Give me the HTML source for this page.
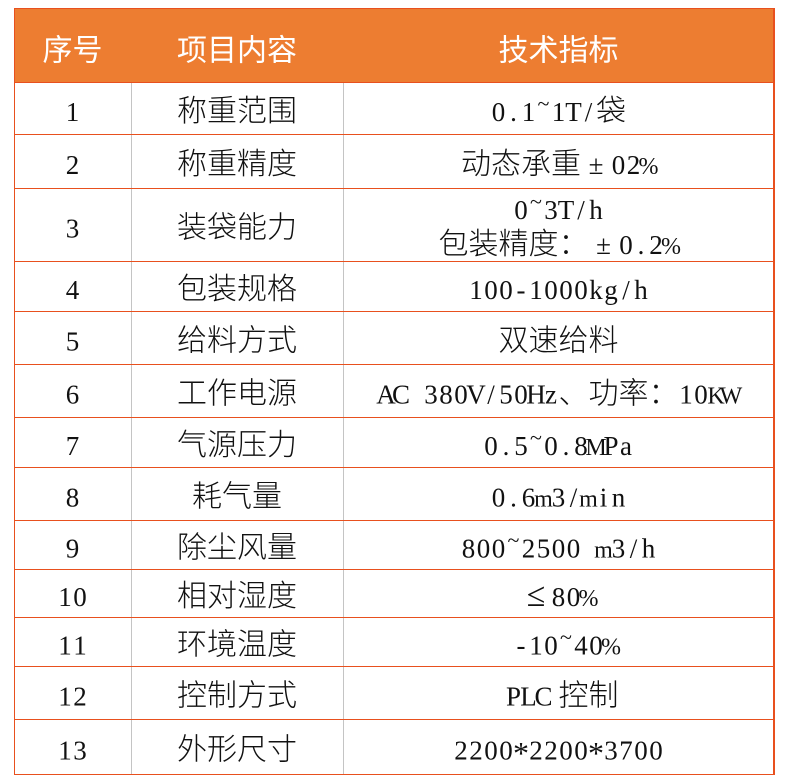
<!DOCTYPE html>
<html><head><meta charset="utf-8">
<style>
html,body{margin:0;padding:0;background:#fff;width:790px;height:784px;overflow:hidden}
svg{display:block}
.h{font-family:"Noto Sans CJK SC",sans-serif;font-size:30px;fill:#fff;text-anchor:middle}
.v{font-family:"Liberation Serif","Noto Sans CJK SC",sans-serif;font-size:30px;fill:#111;text-anchor:middle}
.c{font-family:"Noto Sans CJK SC",sans-serif;font-size:30px;fill:#111;text-anchor:middle;font-weight:300}
.n{font-family:"Liberation Serif",serif;font-size:27px;fill:#111;text-anchor:middle}
.k{font-family:"Noto Sans CJK SC",sans-serif;font-size:30px;font-weight:300}
.l{font-family:"Liberation Serif",serif;font-size:27px}
.t{font-size:22px}
.p{font-size:24px}
.m{font-size:24px}
.s{font-size:32px}
</style></head><body>
<svg width="790" height="784" viewBox="0 0 790 784" xmlns="http://www.w3.org/2000/svg" shape-rendering="crispEdges">
<rect width="790" height="784" fill="#fff"/>
<rect x="14" y="8" width="760" height="74" fill="#ED7D31"/>
<rect x="131" y="82" width="1" height="692" fill="#C4C4C4"/>
<rect x="343" y="82" width="1" height="692" fill="#C4C4C4"/>
<g fill="#E8501E">
<rect x="14" y="8" width="761" height="1"/>
<rect x="14" y="82" width="761" height="1"/>
<rect x="14" y="134" width="761" height="1"/>
<rect x="14" y="188" width="761" height="1"/>
<rect x="14" y="261" width="761" height="1"/>
<rect x="14" y="311" width="761" height="1"/>
<rect x="14" y="364" width="761" height="1"/>
<rect x="14" y="417" width="761" height="1"/>
<rect x="14" y="467" width="761" height="1"/>
<rect x="14" y="520" width="761" height="1"/>
<rect x="14" y="569" width="761" height="1"/>
<rect x="14" y="617" width="761" height="1"/>
<rect x="14" y="666" width="761" height="1"/>
<rect x="14" y="719" width="761" height="1"/>
<rect x="14" y="774" width="761" height="1"/>
<rect x="14" y="8" width="1" height="767"/>
<rect x="773" y="8" width="2" height="767"/>
</g>

<text class="h" x="72.5" y="60.5">序号</text>
<text class="h" x="237" y="60.5">项目内容</text>
<text class="h" x="558.5" y="60.5">技术指标</text>

<text class="n" x="72.5" y="121">1</text>
<text class="n" x="72.5" y="174">2</text>
<text class="n" x="72.5" y="237.5">3</text>
<text class="n" x="72.5" y="299">4</text>
<text class="n" x="72.5" y="350.5">5</text>
<text class="n" x="72.5" y="403.5">6</text>
<text class="n" x="72.5" y="455">7</text>
<text class="n" x="72.5" y="506.5">8</text>
<text class="n" x="72.5" y="557.5">9</text>
<text class="n" x="65 80" y="606">10</text>
<text class="n" x="65 80" y="654.5">11</text>
<text class="n" x="65 80" y="705.5">12</text>
<text class="n" x="65 80" y="759.5">13</text>

<text class="c" x="237" y="121">称重范围</text>
<text class="c" x="237" y="174">称重精度</text>
<text class="c" x="237" y="237.5">装袋能力</text>
<text class="c" x="237" y="299">包装规格</text>
<text class="c" x="237" y="350.5">给料方式</text>
<text class="c" x="237" y="403.5">工作电源</text>
<text class="c" x="237" y="455">气源压力</text>
<text class="c" x="237" y="506.5">耗气量</text>
<text class="c" x="237" y="557.5">除尘风量</text>
<text class="c" x="237" y="606">相对湿度</text>
<text class="c" x="237" y="654.5">环境温度</text>
<text class="c" x="237" y="705.5">控制方式</text>
<text class="c" x="237" y="759.5">外形尺寸</text>

<text class="v" y="121"><tspan class="l" x="498.5 513.5 528.5">0.1</tspan><tspan class="l t" x="543.5" y="111">~</tspan><tspan class="l" x="558.5 573.5 588.5" y="121">1T/</tspan><tspan class="k" x="611">袋</tspan></text>

<text class="v" y="174"><tspan class="k" x="476 506 536 566">动态承重</tspan><tspan class="l" x="596">±</tspan><tspan class="l" x="618.5 633.5">02</tspan><tspan class="l p" x="648.5">%</tspan></text>

<text class="v" y="219"><tspan class="l" x="521">0</tspan><tspan class="l t" x="536" y="209">~</tspan><tspan class="l" x="551 566 581 596" y="219">3T/h</tspan></text>
<text class="v" y="254"><tspan class="k" x="453.5 483.5 513.5 543.5 573.5">包装精度：</tspan><tspan class="l" x="603.5">±</tspan><tspan class="l" x="626 641 656">0.2</tspan><tspan class="l p" x="671">%</tspan></text>

<text class="v" y="299"><tspan class="l" x="476 491 506 521 536 551 566 581 596 611 626 641">100-1000kg/h</tspan></text>

<text class="v" y="350.5"><tspan class="k" x="558.5">双速给料</tspan></text>

<text class="v" y="403.5"><tspan class="l" x="386 401 416 431 446 461 476 491 506 521 536 551">AC 380V/50Hz</tspan><tspan class="k" x="573.5 603.5 633.5 663.5">、功率：</tspan><tspan class="l" x="686 701">10</tspan><tspan class="l m" x="716 731">KW</tspan></text>

<text class="v" y="455"><tspan class="l" x="491 506 521">0.5</tspan><tspan class="l t" x="536" y="445">~</tspan><tspan class="l" x="551 566 581" y="455">0.8</tspan><tspan class="l m" x="596">M</tspan><tspan class="l" x="611 626">Pa</tspan></text>

<text class="v" y="506.5"><tspan class="l" x="498.5 513.5 528.5">0.6</tspan><tspan class="l m" x="543.5">m</tspan><tspan class="l" x="558.5 573.5">3/</tspan><tspan class="l m" x="588.5">m</tspan><tspan class="l" x="603.5 618.5">in</tspan></text>

<text class="v" y="557.5"><tspan class="l" x="468.5 483.5 498.5">800</tspan><tspan class="l t" x="513.5" y="547.5">~</tspan><tspan class="l" x="528.5 543.5 558.5 573.5" y="557.5">2500</tspan><tspan class="l m" x="603.5">m</tspan><tspan class="l" x="618.5 633.5 648.5">3/h</tspan></text>

<text class="v" y="606"><tspan class="l" x="536" style="font-size:34px">≤</tspan><tspan class="l" x="558.5 573.5">80</tspan><tspan class="l p" x="588.5">%</tspan></text>

<text class="v" y="654.5"><tspan class="l" x="521 536 551">-10</tspan><tspan class="l t" x="566" y="644.5">~</tspan><tspan class="l" x="581 596" y="654.5">40</tspan><tspan class="l p" x="611">%</tspan></text>

<text class="v" y="705.5"><tspan class="l" x="513.5 528.5 543.5">PLC</tspan><tspan class="k" x="573.5 603.5">控制</tspan></text>

<text class="v" y="759.5"><tspan class="l" x="461 476 491 506">2200</tspan><tspan class="l s" x="521" y="764">*</tspan><tspan class="l" x="536 551 566 581" y="759.5">2200</tspan><tspan class="l s" x="596" y="764">*</tspan><tspan class="l" x="611 626 641 656" y="759.5">3700</tspan></text>
</svg>
</body></html>
